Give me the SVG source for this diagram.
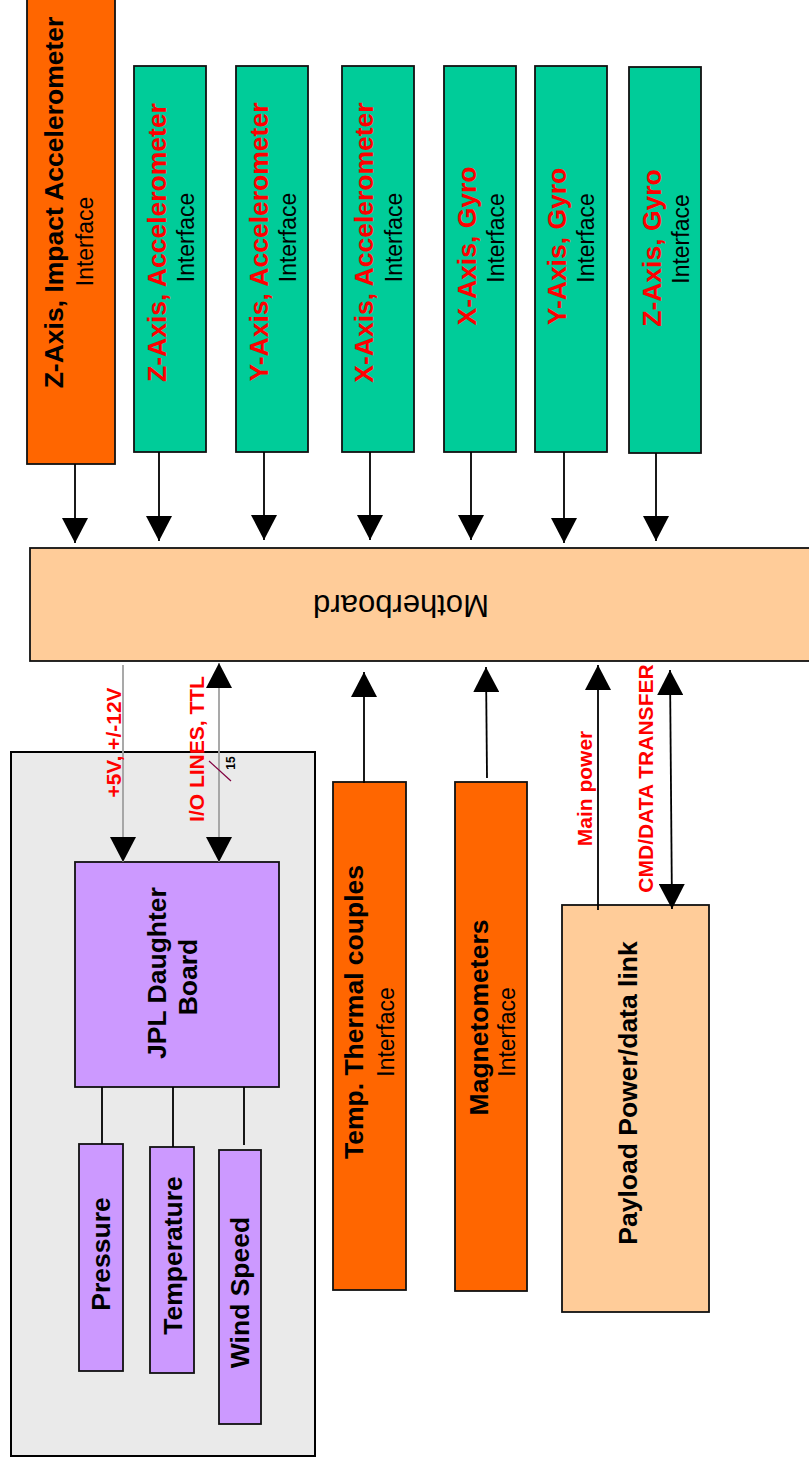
<svg xmlns="http://www.w3.org/2000/svg" width="809" height="1462" viewBox="0 0 809 1462">
<style>
text{font-family:"Liberation Sans",Arial,sans-serif;}
.b{font-weight:bold;font-size:26.5px;fill:#000;}
.rb{font-weight:bold;font-size:26.5px;fill:#FF0000;}
.if{font-size:23px;fill:#000;}
.lab{font-weight:bold;font-size:21px;fill:#FF0000;}
.box{stroke:#111;stroke-width:1.8;}
.orange{fill:#FF6600;}
.green{fill:#00CC99;}
.peach{fill:#FFCC99;}
.purple{fill:#CC99FF;}
.conn{stroke:#000;stroke-width:1.8;fill:none;}
.gconn{stroke:#A0A0A0;stroke-width:1.8;fill:none;}
</style>
<defs>
<marker id="ah" markerUnits="userSpaceOnUse" markerWidth="26" markerHeight="26" refX="25" refY="13" orient="auto">
<path d="M0,0 L25,13 L0,26 z" fill="#000"/>
</marker>
<marker id="ahs" markerUnits="userSpaceOnUse" markerWidth="26" markerHeight="26" refX="0" refY="13" orient="auto">
<path d="M25,0 L0,13 L25,26 z" fill="#000"/>
</marker>
</defs>
<rect width="809" height="1462" fill="#fff"/>

<g id="payload-enclosure">
<rect x="11" y="752" width="304" height="704" fill="#EAEAEA" stroke="#000" stroke-width="2"/>
</g>

<g id="impact-accel">
<rect class="box orange" x="27" y="-5" width="88" height="469"/>
<text class="b" text-anchor="middle" transform="translate(63,202.5) rotate(-90)">Z-Axis, Impact Accelerometer</text>
<text class="if" text-anchor="middle" transform="translate(93,241.5) rotate(-90)">Interface</text>
</g>

<g id="z-accel">
<rect class="box green" x="134" y="66" width="72" height="386"/>
<text class="rb" text-anchor="middle" transform="translate(166,242.5) rotate(-90)">Z-Axis, Accelerometer</text>
<text class="if" text-anchor="middle" transform="translate(194,237.5) rotate(-90)">Interface</text>
</g>

<g id="y-accel">
<rect class="box green" x="236" y="66" width="72" height="386"/>
<text class="rb" text-anchor="middle" transform="translate(268,242) rotate(-90)">Y-Axis, Accelerometer</text>
<text class="if" text-anchor="middle" transform="translate(296,237.5) rotate(-90)">Interface</text>
</g>

<g id="x-accel">
<rect class="box green" x="342" y="66" width="72" height="386"/>
<text class="rb" text-anchor="middle" transform="translate(373,242.5) rotate(-90)">X-Axis, Accelerometer</text>
<text class="if" text-anchor="middle" transform="translate(402,237.5) rotate(-90)">Interface</text>
</g>

<g id="x-gyro">
<rect class="box green" x="444" y="66" width="72" height="386"/>
<text class="rb" text-anchor="middle" transform="translate(476,246) rotate(-90)">X-Axis, Gyro</text>
<text class="if" text-anchor="middle" transform="translate(504,238) rotate(-90)">Interface</text>
</g>

<g id="y-gyro">
<rect class="box green" x="535" y="66" width="72" height="386"/>
<text class="rb" text-anchor="middle" transform="translate(566,246.5) rotate(-90)">Y-Axis, Gyro</text>
<text class="if" text-anchor="middle" transform="translate(594,238) rotate(-90)">Interface</text>
</g>

<g id="z-gyro">
<rect class="box green" x="629" y="67" width="72" height="386"/>
<text class="rb" text-anchor="middle" transform="translate(661,248) rotate(-90)">Z-Axis, Gyro</text>
<text class="if" text-anchor="middle" transform="translate(689,239) rotate(-90)">Interface</text>
</g>

<g id="motherboard">
<rect class="box peach" x="30" y="548" width="790" height="113"/>
<text text-anchor="middle" font-size="31" fill="#000" transform="translate(401,595) rotate(180)">Motherboard</text>
</g>

<g id="jpl-daughter-board">
<rect class="box purple" x="75" y="862" width="204" height="225"/>
<text class="b" text-anchor="middle" transform="translate(166,973) rotate(-90)">JPL Daughter</text>
<text class="b" text-anchor="middle" transform="translate(197,977) rotate(-90)">Board</text>
</g>

<g id="pressure">
<rect class="box purple" x="79" y="1144" width="44" height="227"/>
<text class="b" text-anchor="middle" transform="translate(110,1254) rotate(-90)">Pressure</text>
</g>

<g id="temperature">
<rect class="box purple" x="150" y="1147" width="44" height="226"/>
<text class="b" text-anchor="middle" transform="translate(182,1255.5) rotate(-90)">Temperature</text>
</g>

<g id="wind-speed">
<rect class="box purple" x="219" y="1150" width="42" height="274"/>
<text class="b" text-anchor="middle" transform="translate(249,1292.5) rotate(-90)">Wind Speed</text>
</g>

<g id="thermal-couples">
<rect class="box orange" x="333" y="782" width="73" height="508"/>
<text class="b" text-anchor="middle" transform="translate(363,1012) rotate(-90)">Temp. Thermal couples</text>
<text class="if" text-anchor="middle" transform="translate(394,1032) rotate(-90)">Interface</text>
</g>

<g id="magnetometers">
<rect class="box orange" x="455" y="782" width="72" height="509"/>
<text class="b" text-anchor="middle" transform="translate(488,1017.5) rotate(-90)">Magnetometers</text>
<text class="if" text-anchor="middle" transform="translate(515,1032) rotate(-90)">Interface</text>
</g>

<g id="payload-link">
<rect class="box peach" x="562" y="905" width="147" height="407"/>
<text class="b" text-anchor="middle" transform="translate(637,1093) rotate(-90)">Payload Power/data link</text>
</g>

<g id="connectors">
<line class="conn" x1="75" y1="464" x2="75" y2="543" marker-end="url(#ah)"/>
<line class="conn" x1="159" y1="452" x2="159" y2="541" marker-end="url(#ah)"/>
<line class="conn" x1="264" y1="452" x2="264" y2="540" marker-end="url(#ah)"/>
<line class="conn" x1="370" y1="452" x2="370" y2="540" marker-end="url(#ah)"/>
<line class="conn" x1="471" y1="452" x2="471" y2="540" marker-end="url(#ah)"/>
<line class="conn" x1="564" y1="452" x2="564" y2="543" marker-end="url(#ah)"/>
<line class="conn" x1="656" y1="453" x2="656" y2="541" marker-end="url(#ah)"/>

<line class="gconn" x1="123" y1="665" x2="123" y2="862" marker-end="url(#ah)"/>
<line class="gconn" x1="219" y1="663" x2="219" y2="862" marker-start="url(#ahs)" marker-end="url(#ah)"/>
<line x1="209" y1="761" x2="231" y2="781" stroke="#800040" stroke-width="1.2"/>
<text font-weight="bold" font-size="12" fill="#000" text-anchor="middle" transform="translate(235,763) rotate(-90)">15</text>
<text class="lab" text-anchor="middle" transform="translate(121,742.5) rotate(-90)">+5V, +/-12V</text>
<text class="lab" text-anchor="middle" transform="translate(204,749) rotate(-90)">I/O LINES, TTL</text>

<line class="conn" x1="364" y1="783" x2="364" y2="672" marker-end="url(#ah)"/>
<line class="conn" x1="487" y1="778" x2="486" y2="667" marker-end="url(#ah)"/>
<line class="conn" x1="598" y1="910" x2="598" y2="665" marker-end="url(#ah)"/>
<line class="conn" x1="670" y1="670" x2="672" y2="909" marker-start="url(#ahs)" marker-end="url(#ah)"/>
<text class="lab" text-anchor="middle" transform="translate(592,788.5) rotate(-90)">Main power</text>
<text class="lab" text-anchor="middle" transform="translate(653,778.5) rotate(-90)">CMD/DATA TRANSFER</text>

<line class="conn" x1="102" y1="1087" x2="102" y2="1144"/>
<line class="conn" x1="173" y1="1087" x2="173" y2="1147"/>
<line class="conn" x1="244" y1="1087" x2="244" y2="1145"/>
</g>
</svg>
